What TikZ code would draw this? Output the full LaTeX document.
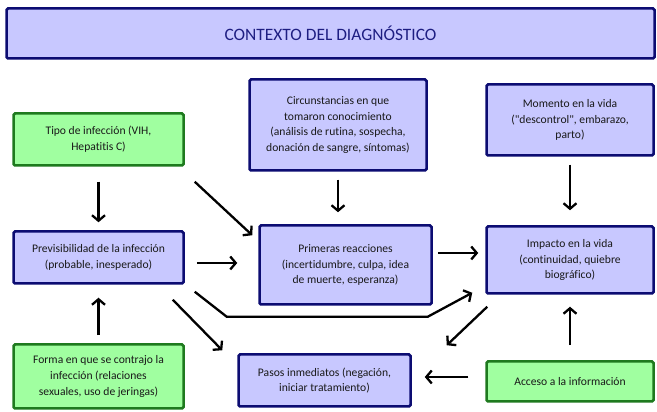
\documentclass[tikz,border=0pt]{standalone}
\usepackage{fontspec}
\setmainfont{Carlito}[Ligatures=NoCommon]
\usetikzlibrary{arrows.meta}

\definecolor{boxblue}{HTML}{C8C8FF}
\definecolor{lineblue}{HTML}{0C0C72}
\definecolor{boxgreen}{HTML}{A0FFA0}
\definecolor{linegreen}{HTML}{1E7A1E}
\definecolor{titleblue}{HTML}{1E1E82}

\tikzset{
  box/.style={rectangle, rounded corners=1.5pt, line width=2.5pt, align=center,
    inner sep=0pt, font=\fontsize{11.6}{15.8}\selectfont, text=black!90},
  bluebox/.style={box, draw=lineblue, fill=boxblue},
  greenbox/.style={box, draw=linegreen, fill=boxgreen},
  arr/.style={line width=2.3pt, -{Straight Barb[length=5.5pt,width=13pt,line width=2.3pt]}},
}

\begin{document}
\begin{tikzpicture}[x=1pt,y=1pt]
  \useasboundingbox (0,0) rectangle (657,412);

  % title
  \node[bluebox, minimum width=648pt, minimum height=50pt,
    font=\fontsize{17.4}{20}\selectfont, text=titleblue] (titulo) at (330.5,378.5)
    {CONTEXTO DEL DIAGNÓSTICO};

  % boxes
  \node[greenbox, minimum width=170pt, minimum height=52pt] (tipo) at (98.5,272.5)
    {Tipo de infección (VIH,\\ Hepatitis C)};
  \node[bluebox, minimum width=177pt, minimum height=91pt] (circ) at (338,287)
    {Circunstancias en que\\ tomaron conocimiento\\ (análisis de rutina, sospecha,\\ donación de sangre, síntomas)};
  \node[bluebox, minimum width=167pt, minimum height=71pt] (momento) at (570,292)
    {Momento en la vida\\ (\textquotedbl descontrol\textquotedbl, embarazo,\\ parto)};
  \node[bluebox, minimum width=170pt, minimum height=52pt] (prev) at (98.5,154.5)
    {Previsibilidad de la infección\\ (probable, inesperado)};
  \node[bluebox, minimum width=172pt, minimum height=79pt] (prim) at (345.5,147)
    {Primeras reacciones\\ (incertidumbre, culpa, idea\\ de muerte, esperanza)};
  \node[bluebox, minimum width=167pt, minimum height=67pt] (impacto) at (570,152)
    {Impacto en la vida\\ (continuidad, quiebre\\ biográfico)};
  \node[greenbox, minimum width=170pt, minimum height=64pt] (forma) at (98.5,35.5)
    {Forma en que se contrajo la\\ infección (relaciones\\ sexuales, uso de jeringas)};
  \node[bluebox, minimum width=172pt, minimum height=52pt] (pasos) at (324.5,31.5)
    {Pasos inmediatos (negación,\\ iniciar tratamiento)};
  \node[greenbox, minimum width=167pt, minimum height=40pt] (acceso) at (570,30.5)
    {Acceso a la información};

  % vertical arrows
  \draw[arr, shorten <=15pt, shorten >=8pt] (tipo.south) -- (prev.north);
  \draw[arr, shorten <=8pt, shorten >=12pt] (circ.south) -- (circ.south |- prim.north);
  \draw[arr, shorten <=8pt, shorten >=15pt] (momento.south) -- (impacto.north);
  \draw[arr, shorten <=8pt, shorten >=13pt] (forma.north) -- (prev.south);
  \draw[arr, shorten <=15pt, shorten >=12pt] (acceso.north) -- (impacto.south);

  % horizontal arrows
  \draw[arr] ([xshift=12pt,yshift=-5.5pt]prev.east) -- ([xshift=-21pt,yshift=2pt]prim.west);
  \draw[arr] ([xshift=5pt,yshift=12pt]prim.east) -- ([xshift=-7pt,yshift=7pt]impacto.west);
  \draw[arr] ([xshift=-17pt,yshift=4.5pt]acceso.west) -- ([xshift=13pt,yshift=3.5pt]pasos.east);

  % diagonal arrows
  \draw[arr] ([xshift=10pt,yshift=-15pt]tipo.south east) -- ([xshift=-6pt,yshift=-11pt]prim.north west);
  \draw[arr] ([xshift=-12pt,yshift=-15pt]prev.south east) -- ([xshift=-15pt,yshift=3pt]pasos.north west);
  \draw[arr] ([xshift=2pt,yshift=-12pt]impacto.south west) -- ([xshift=35pt,yshift=8pt]pasos.north east);
  \draw[arr] ([xshift=10pt,yshift=-7pt]prev.south east) -- ++(32,-25) -- ++(201,0)
    -- ([xshift=-13pt,yshift=2pt]impacto.south west);
\end{tikzpicture}
\end{document}
